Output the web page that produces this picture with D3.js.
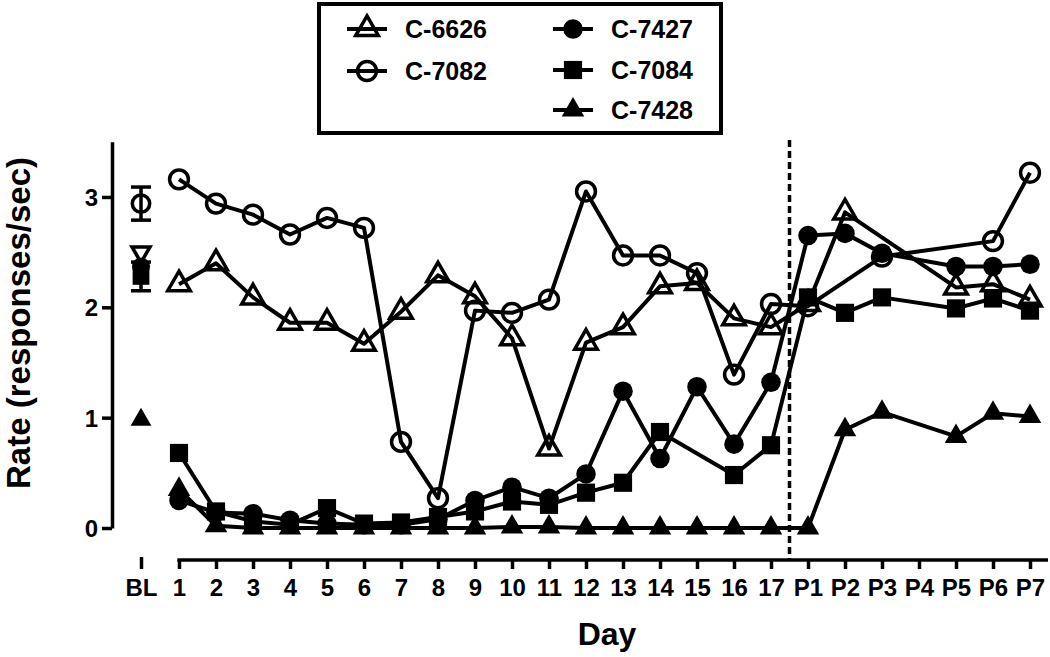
<!DOCTYPE html>
<html><head><meta charset="utf-8">
<script src="https://cdn.jsdelivr.net/npm/d3@7"></script>
<style>
html,body{margin:0;padding:0;background:#fff;}
svg text{font-family:"Liberation Sans",Arial,sans-serif;font-weight:bold;fill:#000;}
</style></head>
<body>
<svg id="chart" width="1050" height="657"></svg>
<script>
// ---- data ----
const days = ["1","2","3","4","5","6","7","8","9","10","11","12","13","14","15","16","17","P1","P2","P3","P4","P5","P6","P7"];
const yTicks = [0, 1, 2, 3];
const names = ["C-6626", "C-7082", "C-7427", "C-7084", "C-7428"];
const c6626 = [2.21,2.40,2.09,1.86,1.86,1.67,1.96,2.29,2.10,1.72,0.72,1.68,1.82,2.19,2.22,1.90,1.82,2.03,2.86,null,null,2.18,2.21,2.07];
const c7082 = [3.16,2.94,2.84,2.66,2.81,2.72,0.78,0.27,1.97,1.95,2.07,3.05,2.47,2.47,2.31,1.39,2.03,2.01,null,2.46,null,null,2.60,3.22];
const c7427 = [0.25,0.14,0.13,0.07,0.04,0.03,0.03,0.08,0.25,0.37,0.27,0.49,1.24,0.63,1.28,0.76,1.32,2.65,2.67,2.49,null,2.37,2.37,2.39];
const c7084 = [0.68,0.15,0.06,0.03,0.18,0.04,0.05,0.10,0.15,0.24,0.21,0.32,0.41,0.87,null,0.48,0.75,2.09,1.95,2.09,null,1.99,2.08,1.97];
const c7428 = [0.35,0.02,0.00,0.00,0.00,0.00,0.00,0.00,0.00,0.01,0.01,0.00,0.00,0.00,0.00,0.00,0.00,0.00,0.89,1.05,null,0.83,1.04,1.01];
// baseline (BL) means and error
const blMean = [2.50, 2.94, 2.37, 2.28, 0.98];
const blErr  = [0, 0.15, 0, 0.13, 0];

// ---- setup ----
const svg = d3.select("#chart");
const x = d3.scalePoint().domain(days).range([179, 1030]);
const xBL = d3.scalePoint().domain(["BL"]).range([141, 141]);
const y = d3.scaleLinear().domain([0, 3.5]).range([528, 141.8]);

const seriesVals = [c6626, c7082, c7427, c7084, c7428];
const symTypes = [d3.symbolTriangle, d3.symbolCircle, d3.symbolCircle, d3.symbolSquare, d3.symbolTriangle];
const symSizes = [220, 280, 300, 330, 220];
const filled = [false, false, true, true, true];
const SW = 4;

function symPath(i) { return d3.symbol().type(symTypes[i]).size(symSizes[i])(); }
function styleSym(sel, i) {
  sel.attr("fill", filled[i] ? "#000" : "none")
     .attr("stroke", "#000")
     .attr("stroke-width", filled[i] ? 0 : 3.5)
     .attr("stroke-linejoin", "miter");
}

// ---- axes ----
const yAxis = svg.append("g").attr("transform", "translate(112,0)")
  .call(d3.axisLeft(y).tickValues(yTicks).tickSize(10).tickSizeOuter(0).tickFormat(d3.format("d")));
yAxis.select(".domain").attr("stroke-width", 3.5);
yAxis.selectAll(".tick line").attr("stroke-width", 3.5);
yAxis.selectAll(".tick text").attr("font-size", 24).attr("x", -14).attr("dy", "0.36em");

const xAxis = svg.append("g").attr("transform", "translate(0,560)")
  .call(d3.axisBottom(x).tickSize(9).tickSizeOuter(0));
xAxis.select(".domain").remove();
xAxis.append("line").attr("x1", x(days[0]) - 1.7).attr("x2", x(days[days.length - 1]) + 18)
  .attr("y1", 0).attr("y2", 0).attr("stroke", "#000").attr("stroke-width", 3.5);
xAxis.selectAll(".tick line").attr("stroke-width", 3.5);
xAxis.selectAll(".tick text").attr("font-size", 24).attr("y", 19).attr("dy", "0.72em");

const blAxis = svg.append("g").attr("transform", "translate(0,560)")
  .call(d3.axisBottom(xBL).tickSize(9).tickSizeOuter(0));
blAxis.select(".domain").remove();
blAxis.selectAll(".tick line").attr("y1", -3).attr("stroke-width", 3.5);
blAxis.selectAll(".tick text").attr("font-size", 24).attr("y", 19).attr("dy", "0.72em");

// axis titles
svg.append("text").attr("x", 607).attr("y", 645).attr("text-anchor", "middle")
  .attr("font-size", 32).text("Day");
svg.append("text").attr("transform", "translate(30,323) rotate(-90)").attr("text-anchor", "middle")
  .attr("font-size", 33).text("Rate (responses/sec)");

// dashed separator between day 17 and P1
const xSep = (x("17") + x("P1")) / 2;
svg.append("line").attr("x1", xSep).attr("x2", xSep).attr("y1", 140).attr("y2", 560)
  .attr("stroke", "#000").attr("stroke-width", 3.5).attr("stroke-dasharray", "7,4");

// ---- series ----
const line = d3.line().x(d => x(d.day)).y(d => y(d.v));
seriesVals.forEach((vals, i) => {
  const pts = days.map((d, j) => ({day: d, v: vals[j]})).filter(p => p.v != null);
  const g = svg.append("g");
  g.append("path").datum(pts).attr("d", line).attr("fill", "none")
    .attr("stroke", "#000").attr("stroke-width", SW).attr("stroke-linejoin", "round");
  g.selectAll("path.m").data(pts).enter().append("path").attr("class", "m")
    .attr("d", symPath(i))
    .attr("transform", d => `translate(${x(d.day)},${y(d.v)})`)
    .call(styleSym, i);
});

// ---- baseline ----
const blG = svg.append("g");
const bx = xBL("BL");
blMean.forEach((m, i) => {
  if (blErr[i] > 0) {
    const lo = y(m - blErr[i]), hi = y(m + blErr[i]);
    blG.append("line").attr("x1", bx).attr("x2", bx).attr("y1", lo).attr("y2", hi)
      .attr("stroke", "#000").attr("stroke-width", 3.5);
    [lo, hi].forEach(yy => blG.append("line").attr("x1", bx - 10).attr("x2", bx + 10)
      .attr("y1", yy).attr("y2", yy).attr("stroke", "#000").attr("stroke-width", 3.5));
  }
});
blMean.forEach((m, i) => {
  const rot = (i === 0) ? " rotate(180)" : "";
  const sz = (i === 0) ? 140 : symSizes[i] * 0.85;
  blG.append("path")
    .attr("d", d3.symbol().type(symTypes[i]).size(sz)())
    .attr("transform", `translate(${bx},${y(m)})${rot}`)
    .call(styleSym, i);
});

// ---- legend ----
const leg = svg.append("g");
leg.append("rect").attr("x", 319).attr("y", 4).attr("width", 402).attr("height", 129)
  .attr("fill", "#fff").attr("stroke", "#000").attr("stroke-width", 4);
const legPos = [
  {sx: 367, y: 29, tx: 405},
  {sx: 367, y: 71, tx: 405},
  {sx: 573, y: 29, tx: 611},
  {sx: 573, y: 70, tx: 611},
  {sx: 573, y: 110, tx: 611}
];
names.forEach((n, i) => {
  const p = legPos[i];
  leg.append("line").attr("x1", p.sx - 20).attr("x2", p.sx + 20).attr("y1", p.y).attr("y2", p.y)
    .attr("stroke", "#000").attr("stroke-width", SW);
  leg.append("path").attr("d", symPath(i)).attr("transform", `translate(${p.sx},${p.y})`).call(styleSym, i);
  leg.append("text").attr("x", p.tx).attr("y", p.y + 9).attr("font-size", 25).text(n);
});
</script>
</body></html>
